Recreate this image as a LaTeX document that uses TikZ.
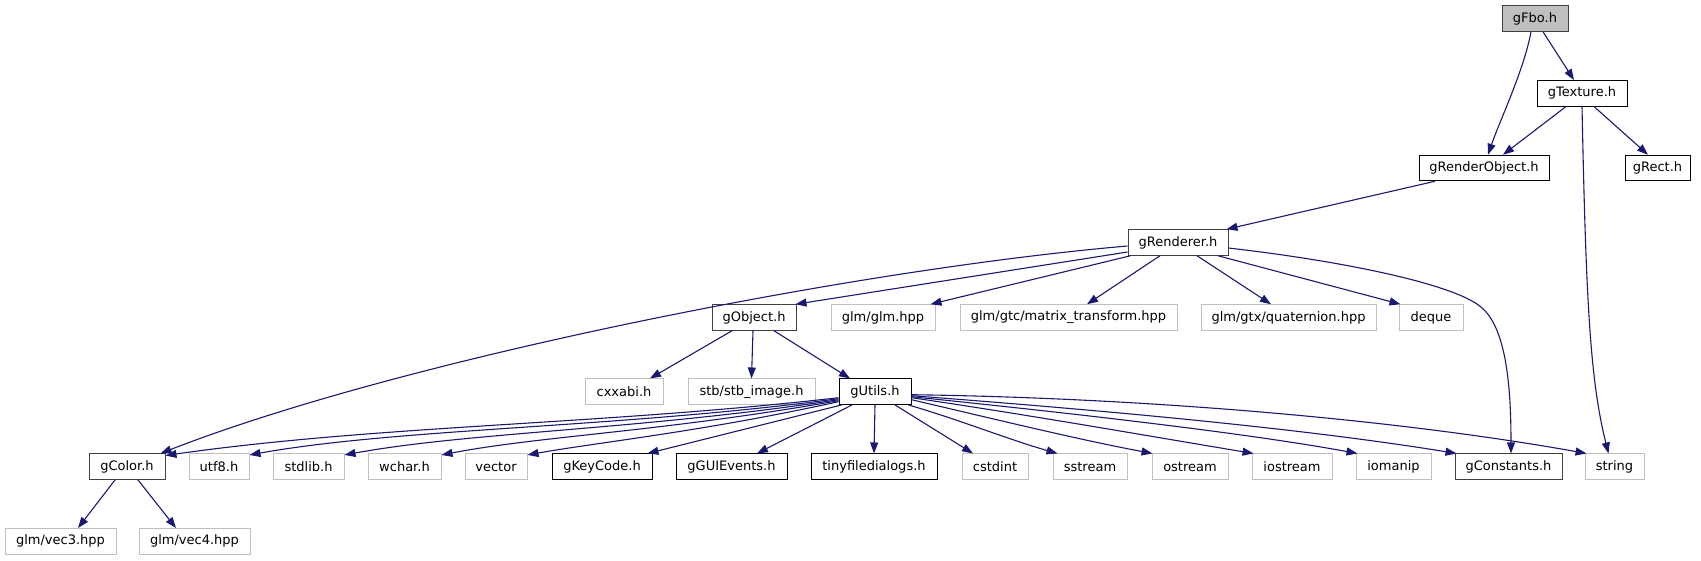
\documentclass[tikz,border=0pt]{standalone}
\usepackage{fontspec}
\setmainfont{DejaVu Sans}
\usetikzlibrary{arrows.meta}
\definecolor{edgec}{HTML}{191970}
\definecolor{darkb}{HTML}{404040}
\definecolor{lightb}{HTML}{BFBFBF}
\tikzset{
  box/.style={draw, line width=1pt, minimum height=25.5pt, inner sep=0pt, font=\fontsize{13}{15}\selectfont},
  docbox/.style={box, draw=black},
  darkbox/.style={box, draw=darkb},
  extbox/.style={box, draw=lightb},
  rootbox/.style={box, draw=darkb, fill=lightb},
  edge/.style={draw=edgec, line width=1.1pt, -{Triangle[length=11pt,width=8pt]}}
}
\begin{document}
\begin{tikzpicture}[x=1pt,y=-1pt]
\useasboundingbox (0,0) rectangle (1701,560);
% row 0
\node[rootbox, minimum width=66pt] (fbo) at (1535,18.5) {gFbo.h};
% row 1
\node[docbox, minimum width=90pt] (tex) at (1582,93.3) {gTexture.h};
% row 2
\node[docbox, minimum width=130pt] (rend) at (1484,168) {gRenderObject.h};
\node[docbox, minimum width=65pt] (rect) at (1657.5,168) {gRect.h};
% row 3
\node[darkbox, minimum width=100pt] (renderer) at (1178,242.5) {gRenderer.h};
% row 4
\node[darkbox, minimum width=84pt] (gobj) at (754,317.5) {gObject.h};
\node[extbox, minimum width=104pt] (glm) at (883,317.5) {glm/glm.hpp};
\node[extbox, minimum width=217pt] (matrix) at (1068.5,317.5) {glm/gtc/matrix\_transform.hpp};
\node[extbox, minimum width=175pt] (quat) at (1288.5,317.5) {glm/gtx/quaternion.hpp};
\node[extbox, minimum width=64pt] (deque) at (1431,317.5) {deque};
% row 5
\node[extbox, minimum width=78pt] (cxxabi) at (624,391.7) {cxxabi.h};
\node[extbox, minimum width=127pt] (stb) at (751.5,391.7) {stb/stb\_image.h};
\node[docbox, minimum width=72pt] (gutils) at (875,391.7) {gUtils.h};
% row 6
\node[darkbox, minimum width=76pt] (gcolor) at (127,466.7) {gColor.h};
\node[extbox, minimum width=60pt] (utf) at (219,466.7) {utf8.h};
\node[extbox, minimum width=71pt] (stdlib) at (308.5,466.7) {stdlib.h};
\node[extbox, minimum width=73pt] (wchar) at (404.5,466.7) {wchar.h};
\node[extbox, minimum width=62pt] (vector) at (496,466.7) {vector};
\node[docbox, minimum width=100pt] (keycode) at (602,466.7) {gKeyCode.h};
\node[docbox, minimum width=111pt] (gui) at (731.5,466.7) {gGUIEvents.h};
\node[docbox, minimum width=126pt] (tiny) at (874,466.7) {tinyfiledialogs.h};
\node[extbox, minimum width=66pt] (cstdint) at (995,466.7) {cstdint};
\node[extbox, minimum width=74pt] (sstream) at (1090,466.7) {sstream};
\node[extbox, minimum width=76pt] (ostream) at (1190,466.7) {ostream};
\node[extbox, minimum width=80pt] (iostream) at (1292,466.7) {iostream};
\node[extbox, minimum width=75pt] (iomanip) at (1393.5,466.7) {iomanip};
\node[darkbox, minimum width=107pt] (gconst) at (1508.5,466.7) {gConstants.h};
\node[extbox, minimum width=59pt] (string) at (1614.5,466.7) {string};
% row 7
\node[extbox, minimum width=111pt] (vec3) at (60.5,541.3) {glm/vec3.hpp};
\node[extbox, minimum width=111pt] (vec4) at (194.5,541.3) {glm/vec4.hpp};

% edges from gFbo
\draw[edge] ([xshift=-4pt]fbo.south) .. controls (1524,70) and (1500,120) .. ([xshift=4pt]rend.north);
\draw[edge] ([xshift=8pt]fbo.south) -- ([xshift=-8pt]tex.north);
% edges from gTexture
\draw[edge] ([xshift=-16pt]tex.south) -- ([xshift=19pt]rend.north);
\draw[edge] ([xshift=12pt]tex.south) -- ([xshift=-9.5pt]rect.north);
\draw[edge] (tex.south) .. controls (1586,300) and (1590,380) .. ([xshift=-6pt]string.north);
% gRenderObject
\draw[edge] ([xshift=-49pt]rend.south) -- ([xshift=-2pt]renderer.north east);
% gRenderer
\draw[edge] ([yshift=-9.5pt]renderer.west) -- ([xshift=-1pt]gobj.north east);
\draw[edge] ([yshift=-3.5pt]renderer.west) .. controls (850,270) and (400,360) .. ([xshift=-5pt]gcolor.north east);
\draw[edge] ([xshift=3pt]renderer.south west) -- ([xshift=-5pt]glm.north east);
\draw[edge] ([xshift=-18pt]renderer.south) -- ([xshift=18.5pt]matrix.north);
\draw[edge] ([xshift=19pt]renderer.south) -- ([xshift=-17.5pt]quat.north);
\draw[edge] ([xshift=40pt]renderer.south) -- ([xshift=2pt]deque.north west);
\draw[edge] ([yshift=-5.5pt]renderer.east) .. controls (1350,262) and (1455,285) .. (1481,307) .. controls (1505,327) and (1511,380) .. ([xshift=2.5pt]gconst.north);
% gObject
\draw[edge] ([xshift=-22pt]gobj.south) -- ([xshift=26pt]cxxabi.north);
\draw[edge] ([xshift=-1pt]gobj.south) -- (stb.north);
\draw[edge] ([xshift=20pt]gobj.south) -- ([xshift=-25pt]gutils.north);
% gUtils left
\draw[edge] ([yshift=-6pt]gutils.west) .. controls (600,425) and (380,425) .. ([yshift=-2pt]gcolor.north east);
\draw[edge] ([yshift=-7pt]gutils.west) .. controls (620,428) and (400,428) .. ([yshift=-1.5pt]utf.north east);
\draw[edge] ([yshift=-8pt]gutils.west) .. controls (640,430) and (470,432) .. ([yshift=-1.5pt]stdlib.north east);
\draw[edge] ([yshift=-9pt]gutils.west) .. controls (660,432) and (540,436) .. ([yshift=-1.5pt]wchar.north east);
\draw[edge] ([yshift=-10pt]gutils.west) .. controls (700,432) and (600,442) .. ([yshift=-1.5pt]vector.north east);
\draw[edge] ([xshift=3pt]gutils.south west) -- ([xshift=-5pt]keycode.north east);
\draw[edge] ([xshift=-23pt]gutils.south) -- ([xshift=25.5pt]gui.north);
\draw[edge] (gutils.south) -- (tiny.north);
\draw[edge] ([xshift=20pt]gutils.south) -- ([xshift=-22pt]cstdint.north);
% gUtils right
\draw[edge] ([xshift=-3pt]gutils.south east) .. controls (960,420) and (1010,440) .. ([xshift=5pt]sstream.north west);
\draw[edge] ([yshift=-8pt]gutils.east) .. controls (990,418) and (1080,440) .. ([xshift=1pt]ostream.north west);
\draw[edge] ([yshift=-6pt]gutils.east) .. controls (1030,415) and (1160,438) .. ([xshift=2pt]iostream.north west);
\draw[edge] ([yshift=-5pt]gutils.east) .. controls (1060,412) and (1240,432) .. ([xshift=2pt]iomanip.north west);
\draw[edge] ([yshift=-4pt]gutils.east) .. controls (1100,410) and (1300,428) .. ([xshift=2pt]gconst.north west);
\draw[edge] ([yshift=-3pt]gutils.east) .. controls (1150,398) and (1400,420) .. ([xshift=2pt]string.north west);
% gColor
\draw[edge] ([xshift=-12pt]gcolor.south) -- ([xshift=17.5pt]vec3.north);
\draw[edge] ([xshift=11pt]gcolor.south) -- ([xshift=-18.5pt]vec4.north);
\end{tikzpicture}
\end{document}
